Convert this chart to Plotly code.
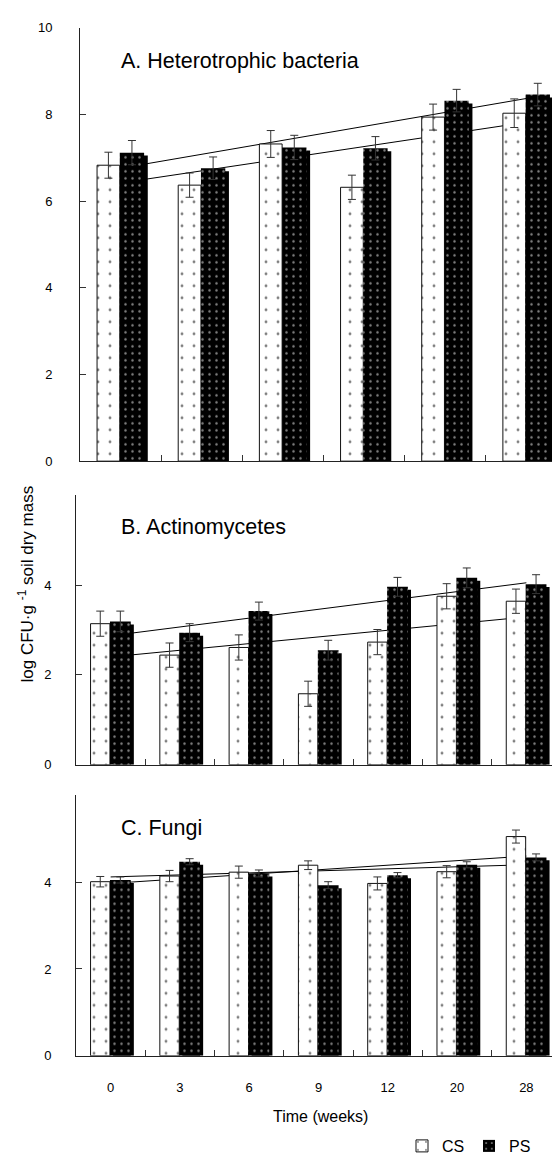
import plotly.graph_objects as go

# ---------------- data ----------------
weeks_A = ["0", "3", "6", "12", "20", "28"]          # panel A has six sampling groups
weeks = ["0", "3", "6", "9", "12", "20", "28"]       # panels B and C

# A. Heterotrophic bacteria
cs_A = [6.83, 6.37, 7.32, 6.32, 7.94, 8.03]
cs_A_err = [0.30, 0.28, 0.31, 0.28, 0.30, 0.33]
ps_A = [7.12, 6.76, 7.24, 7.22, 8.32, 8.46]
ps_A_err = [0.28, 0.26, 0.28, 0.27, 0.26, 0.26]
trend_A_cs = [6.42, 7.82]
trend_A_ps = [6.76, 8.37]

# B. Actinomycetes
cs_B = [3.14, 2.44, 2.61, 1.58, 2.73, 3.75, 3.64]
cs_B_err = [0.28, 0.27, 0.28, 0.28, 0.28, 0.28, 0.27]
ps_B = [3.19, 2.94, 3.42, 2.55, 3.96, 4.16, 4.02]
ps_B_err = [0.23, 0.20, 0.20, 0.22, 0.21, 0.22, 0.21]
trend_B_cs = [2.40, 3.29]
trend_B_ps = [2.87, 4.05]

# C. Fungi
cs_C = [4.01, 4.14, 4.23, 4.39, 3.97, 4.24, 5.05]
cs_C_err = [0.12, 0.13, 0.14, 0.10, 0.15, 0.14, 0.15]
ps_C = [4.05, 4.47, 4.20, 3.93, 4.16, 4.40, 4.57]
ps_C_err = [0.07, 0.07, 0.08, 0.08, 0.06, 0.07, 0.08]
trend_C_cs = [3.97, 4.60]
trend_C_ps = [4.12, 4.40]

panel_titles = ["A. Heterotrophic bacteria", "B. Actinomycetes", "C. Fungi"]
series_names = ["CS", "PS"]
y_title = "log CFU·g <sup>-1</sup> soil dry mass"
x_title = "Time (weeks)"

# ---------------- layout helpers ----------------
W, H = 560, 1155
FONT = "Liberation Sans, Arial, Helvetica, sans-serif"


def fx(px):
    return px / W


def fy(px):
    return 1 - px / H


panels = [
    dict(cats=weeks_A, cs=cs_A, cse=cs_A_err, ps=ps_A, pse=ps_A_err,
         tcs=trend_A_cs, tps=trend_A_ps, xdom=(72, 559), ydom=(20, 456.7),
         yr=(0, 10), yt=[0, 2, 4, 6, 8, 10], minor=[],
         title_y=53, showx=False, standoff=24),
    dict(cats=weeks, cs=cs_B, cse=cs_B_err, ps=ps_B, pse=ps_B_err,
         tcs=trend_B_cs, tps=trend_B_ps, xdom=(68, 553), ydom=(491, 762.7),
         yr=(0, 6), yt=[0, 2, 4], minor=[6],
         title_y=523, showx=False, standoff=21),
    dict(cats=weeks, cs=cs_C, cse=cs_C_err, ps=ps_C, pse=ps_C_err,
         tcs=trend_C_cs, tps=trend_C_ps, xdom=(68, 553), ydom=(793.5, 1056),
         yr=(0, 6), yt=[0, 2, 4], minor=[6],
         title_y=826, showx=True, standoff=21),
]

CS_OFF, CS_W = -0.29, 0.28
PS_OFF, PS_W = -0.01, 0.30
SH_OFF, SH_W = 0.035, 0.30

fig = go.Figure()
shapes = []
annotations = []
layout_axes = {}

for i, p in enumerate(panels):
    n = "" if i == 0 else str(i + 1)
    xa, ya = "x" + n, "y" + n
    px_per_unit = (p["ydom"][1] - p["ydom"][0]) / (p["yr"][1] - p["yr"][0])
    drop = 3.0 / px_per_unit
    last = i == len(panels) - 1

    fig.add_trace(go.Bar(
        x=p["cats"], y=p["cs"], name=series_names[0], xaxis=xa, yaxis=ya,
        offset=CS_OFF, width=CS_W, legendgroup="CS", showlegend=last,
        marker=dict(color="white", line=dict(color="#111111", width=1),
                    pattern=dict(shape=".", fgcolor="black", bgcolor="white",
                                 size=12, solidity=0.045)),
        error_y=dict(type="data", array=p["cse"], color="#333333",
                     thickness=1, width=4),
    ))
    fig.add_trace(go.Bar(
        x=p["cats"], y=[v - drop for v in p["ps"]], xaxis=xa, yaxis=ya,
        offset=SH_OFF, width=SH_W, showlegend=False, hoverinfo="skip",
        marker=dict(color="black", line=dict(width=0)),
    ))
    fig.add_trace(go.Bar(
        x=p["cats"], y=p["ps"], name=series_names[1], xaxis=xa, yaxis=ya,
        offset=PS_OFF, width=PS_W, legendgroup="PS", showlegend=last,
        marker=dict(color="black", line=dict(width=0),
                    pattern=dict(shape=".", fgcolor="white", bgcolor="black",
                                 size=7, solidity=0.1)),
        error_y=dict(type="data", array=p["pse"], color="#333333",
                     thickness=1, width=4),
    ))

    # regression lines, drawn behind the bars
    for tr in (p["tcs"], p["tps"]):
        shapes.append(dict(type="line", xref=xa, yref=ya, layer="below",
                           x0=0, x1=len(p["cats"]) - 1, y0=tr[0], y1=tr[1],
                           line=dict(color="black", width=1)))

    layout_axes["xaxis" + n] = dict(
        domain=[fx(p["xdom"][0]), fx(p["xdom"][1])], anchor=ya,
        type="category", range=[-0.5, len(p["cats"]) - 0.5],
        showline=True, linecolor="#222222", linewidth=1,
        ticks="inside", tickson="boundaries", ticklen=6, tickcolor="#333333",
        showgrid=False, zeroline=False, automargin=False,
        showticklabels=p["showx"], ticklabelstandoff=20,
        tickfont=dict(family=FONT, size=13, color="black"),
    )
    yax = dict(
        domain=[fy(p["ydom"][1]), fy(p["ydom"][0])], anchor=xa,
        range=list(p["yr"]), tickmode="array", tickvals=p["yt"],
        showline=True, linecolor="#222222", linewidth=1,
        ticks="inside", ticklen=6, tickcolor="#333333",
        showgrid=False, zeroline=False, automargin=False,
        ticklabelstandoff=p["standoff"],
        tickfont=dict(family=FONT, size=13, color="black"),
    )
    if p["minor"]:
        yax["minor"] = dict(tickmode="array", tickvals=p["minor"],
                            ticks="inside", ticklen=6, tickcolor="#333333",
                            showgrid=False)
    layout_axes["yaxis" + n] = yax
    annotations.append(dict(
        text=panel_titles[i], xref="paper", yref="paper",
        x=fx(111), y=fy(p["title_y"]), xanchor="left", yanchor="middle",
        showarrow=False, font=dict(family=FONT, size=21.5, color="black")))

annotations.append(dict(
    text=y_title, xref="paper", yref="paper", x=fx(18), y=fy(581),
    xanchor="center", yanchor="middle", textangle=-90, showarrow=False,
    font=dict(family=FONT, size=17, color="black")))
annotations.append(dict(
    text=x_title, xref="paper", yref="paper", x=fx(312), y=fy(1117),
    xanchor="center", yanchor="middle", showarrow=False,
    font=dict(family=FONT, size=16, color="black")))

fig.update_layout(
    width=W, height=H,
    margin=dict(l=0, r=0, t=0, b=0),
    paper_bgcolor="white", plot_bgcolor="white",
    barmode="overlay",
    shapes=shapes, annotations=annotations,
    font=dict(family=FONT, size=13, color="black"),
    legend=dict(orientation="h", x=fx(394), y=fy(1147),
                xanchor="left", yanchor="middle",
                font=dict(family=FONT, size=16, color="black"),
                bgcolor="rgba(0,0,0,0)", itemwidth=30, tracegroupgap=0,
                entrywidth=22, entrywidthmode="pixels",
                traceorder="normal"),
    **layout_axes,
)

fig.write_html("out.html")
